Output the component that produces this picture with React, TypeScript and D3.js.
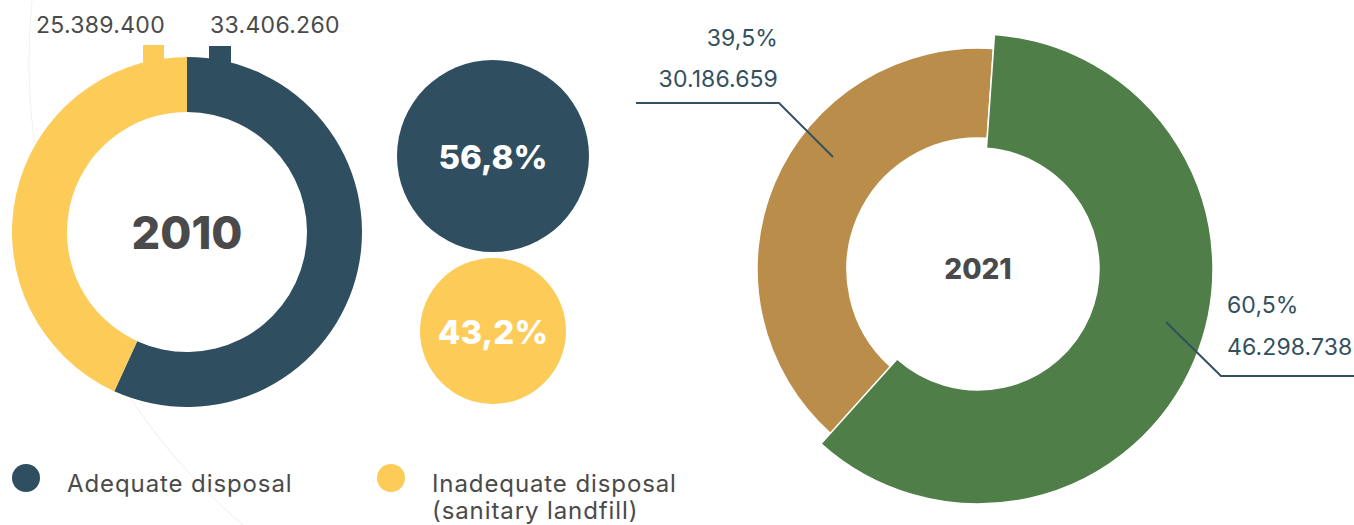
import React, { useEffect, useRef } from 'react';
import * as d3 from 'd3';

// 2010 data
const categories = ['Adequate disposal', 'Inadequate disposal'];
const legendSub = ['', '(sanitary landfill)'];
const values2010 = [33406260, 25389400];
const labels2010 = ['33.406.260', '25.389.400'];
const pct2010 = ['56,8%', '43,2%'];
const colors2010 = ['#2F4E60', '#FCCB58'];

// 2021 data
const values2021 = [46298738, 30186659];
const labels2021 = ['46.298.738', '30.186.659'];
const pct2021 = ['60,5%', '39,5%'];
const colors2021 = ['#4F7E48', '#BA8E4A'];

const W = 1354;
const H = 525;
const FONT = "Inter, 'Open Sans', sans-serif";

const App = () => {
  const ref = useRef<SVGSVGElement>(null);

  useEffect(() => {
    const svg = d3.select(ref.current);
    svg.selectAll('*').remove();

    // faint decorative arc behind left chart
    svg.append('path')
      .attr('transform', 'translate(639,61)')
      .attr('d', d3.arc()({ innerRadius: 609.5, outerRadius: 610.5, startAngle: 3.84, endAngle: 4.82 } as any))
      .attr('fill', '#f1f1f1');

    // ---- 2010 donut ----
    const c1 = { x: 187, y: 232 };
    const pie1 = d3.pie<number>().sort(null).value(d => d);
    const arc1 = d3.arc<d3.PieArcDatum<number>>().innerRadius(120).outerRadius(175);
    const g1 = svg.append('g').attr('transform', `translate(${c1.x},${c1.y})`);

    // small tabs marking the top of each slice
    const tabs = [{ x: 209, w: 22, y: 46 }, { x: 143, w: 21, y: 45 }];
    tabs.forEach((t, i) => {
      svg.append('rect')
        .attr('x', t.x).attr('y', t.y).attr('width', t.w).attr('height', 18)
        .attr('fill', colors2010[i]);
    });

    g1.selectAll('path')
      .data(pie1(values2010))
      .enter()
      .append('path')
      .attr('d', arc1)
      .attr('fill', (d, i) => colors2010[i]);

    g1.append('text')
      .attr('text-anchor', 'middle')
      .attr('y', 17)
      .attr('font-family', FONT)
      .attr('font-weight', 800)
      .attr('font-size', 45)
      .attr('fill', '#4a4a4a')
      .text('2010');

    svg.append('text')
      .attr('x', 210).attr('y', 33)
      .attr('font-family', FONT).attr('font-size', 23)
      .attr('letter-spacing', 0.3)
      .attr('fill', '#4a4a4a')
      .text(labels2010[0]);
    svg.append('text')
      .attr('x', 165).attr('y', 33)
      .attr('text-anchor', 'end')
      .attr('font-family', FONT).attr('font-size', 23)
      .attr('letter-spacing', 0.3)
      .attr('fill', '#4a4a4a')
      .text(labels2010[1]);

    // ---- bubbles ----
    const rScale = d3.scaleLinear().domain([0, d3.max(values2010) as number]).range([0, 96]);
    const bubbleY = [156, 331];
    values2010.forEach((v, i) => {
      svg.append('circle')
        .attr('cx', 493).attr('cy', bubbleY[i])
        .attr('r', rScale(v))
        .attr('fill', colors2010[i]);
      svg.append('text')
        .attr('x', 493).attr('y', bubbleY[i] + 13)
        .attr('text-anchor', 'middle')
        .attr('font-family', FONT)
        .attr('font-weight', 800)
        .attr('font-size', 33)
        .attr('fill', '#fff')
        .text(pct2010[i]);
    });

    // ---- legend ----
    const legX = [26, 391];
    categories.forEach((c, i) => {
      svg.append('circle')
        .attr('cx', legX[i]).attr('cy', 478).attr('r', 14)
        .attr('fill', colors2010[i]);
      svg.append('text')
        .attr('x', legX[i] + 41).attr('y', 492)
        .attr('font-family', FONT).attr('font-size', 24)
        .attr('letter-spacing', 0.9)
        .attr('fill', '#4a4a4a')
        .text(c);
      if (legendSub[i]) {
        svg.append('text')
          .attr('x', legX[i] + 41).attr('y', 519)
          .attr('font-family', FONT).attr('font-size', 24)
          .attr('letter-spacing', 0.9)
          .attr('fill', '#4a4a4a')
          .text(legendSub[i]);
      }
    });

    // ---- 2021 donut ----
    const c2 = { x: 978, y: 269 };
    const pie2 = d3.pie<number>().sort(null).value(d => d)
      .startAngle(0.07).endAngle(0.07 + Math.PI * 2);
    const radii = [{ inner: 121, outer: 235 }, { inner: 131, outer: 221 }];
    const g2 = svg.append('g').attr('transform', `translate(${c2.x},${c2.y})`);
    const arcs2 = pie2(values2021);
    // draw brown first, green on top
    [1, 0].forEach(i => {
      const a = d3.arc<d3.PieArcDatum<number>>()
        .innerRadius(radii[i].inner).outerRadius(radii[i].outer);
      g2.append('path')
        .attr('d', a(arcs2[i]) as string)
        .attr('fill', colors2021[i])
        .attr('stroke', '#fff')
        .attr('stroke-width', 1.5);
    });

    g2.append('text')
      .attr('text-anchor', 'middle')
      .attr('y', 10)
      .attr('font-family', FONT)
      .attr('font-weight', 800)
      .attr('font-size', 28)
      .attr('fill', '#4a4a4a')
      .text('2021');

    // leader lines + labels
    const slate = '#34505F';
    const line = d3.line();
    svg.append('path')
      .attr('d', line([[1166, 322], [1221, 376], [1354, 376]]))
      .attr('fill', 'none').attr('stroke', slate).attr('stroke-width', 2);
    svg.append('path')
      .attr('d', line([[833, 157], [779, 103], [636, 103]]))
      .attr('fill', 'none').attr('stroke', slate).attr('stroke-width', 2);

    const lab = (x: number, y: number, t: string, anchor: string) =>
      svg.append('text')
        .attr('x', x).attr('y', y)
        .attr('text-anchor', anchor)
        .attr('font-family', FONT).attr('font-size', 23)
        .attr('letter-spacing', 0.1)
        .attr('fill', slate)
        .text(t);
    lab(1227, 313, pct2021[0], 'start');
    lab(1227, 355, labels2021[0], 'start');
    lab(778, 46, pct2021[1], 'end');
    lab(778, 87, labels2021[1], 'end');
  }, []);

  return (
    <svg ref={ref} width={W} height={H}
      style={{ position: 'absolute', left: 0, top: 0, background: '#fff' }} />
  );
};

export default App;
